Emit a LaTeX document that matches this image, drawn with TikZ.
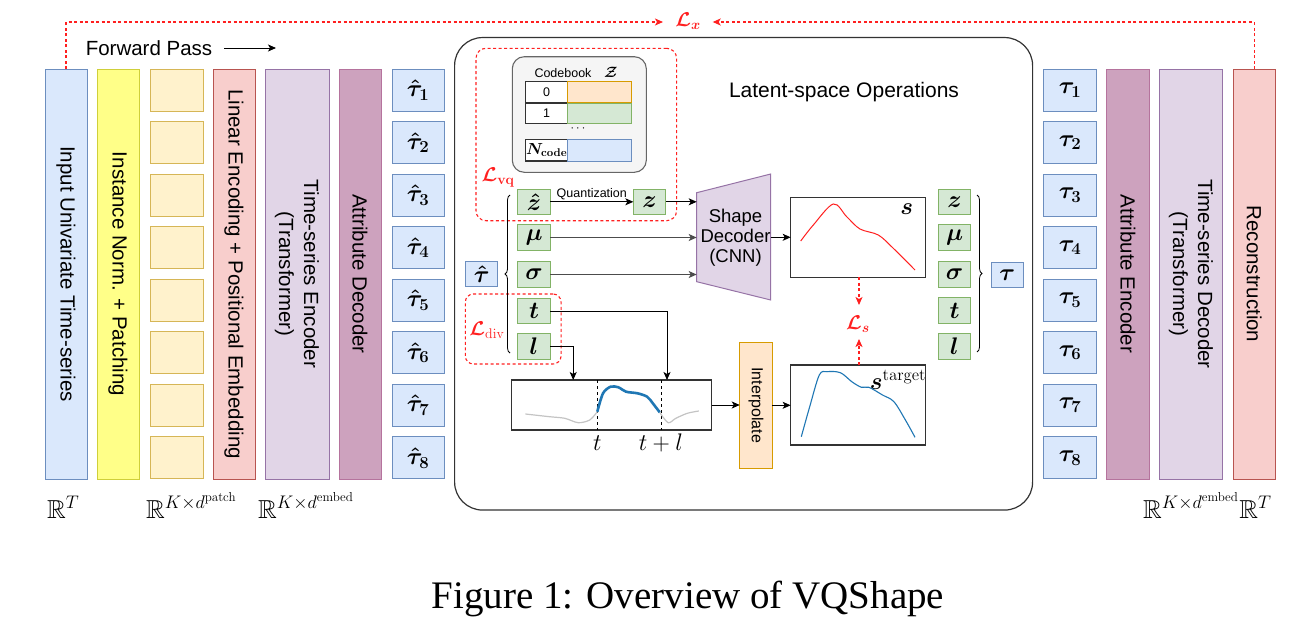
\RequirePackage{fix-cm}
\documentclass[tikz,border=0pt]{standalone}
\usepackage{amsmath,amssymb,bm}
\usepackage[no-math]{fontspec}
\setmainfont{Liberation Sans}
\newfontfamily\capfont{Liberation Serif}
\usetikzlibrary{arrows.meta,decorations.pathreplacing,calc}
\definecolor{bfill}{HTML}{DAE8FC}\definecolor{bline}{HTML}{6C8EBF}
\definecolor{yfill}{HTML}{FFFF88}\definecolor{yline}{HTML}{CFCF3A}
\definecolor{pfill}{HTML}{FFF2CC}\definecolor{pline}{HTML}{D6B656}
\definecolor{rfill}{HTML}{F8CECC}\definecolor{rline}{HTML}{B85450}
\definecolor{vfill}{HTML}{E1D5E7}\definecolor{vline}{HTML}{9673A6}
\definecolor{mfill}{HTML}{CDA2BE}\definecolor{mline}{HTML}{B5739D}
\definecolor{gfill}{HTML}{D5E8D4}\definecolor{gline}{HTML}{82B366}
\definecolor{ofill}{HTML}{FFE6CC}\definecolor{oline}{HTML}{D79B00}
\definecolor{lred}{HTML}{FF2020}
\definecolor{cblue}{HTML}{1F77B4}
\definecolor{cgrey}{HTML}{C4C4C4}
\definecolor{dline}{HTML}{333333}
\newcommand{\colfont}{\fontsize{20.5}{25}\selectfont}
\newcommand{\mfont}{\fontsize{20}{24}\selectfont}
\newcommand{\tfont}{\fontsize{24}{28}\selectfont}
\newcommand{\dfont}{\fontsize{26}{30}\selectfont}
\newcommand{\cbfont}{\fontsize{12.5}{15}\selectfont}
\begin{document}
\begin{tikzpicture}[x=1pt,y=-1pt,
  box/.style={draw, line width=1pt, inner sep=0pt, outer sep=0pt},
  colbox/.style={box, rotate=-90, minimum width=410, minimum height=42, font=\colfont, align=center},
  token/.style={box, minimum width=53, minimum height=42, font=\tfont},
  gbox/.style={box, fill=gfill, draw=gline, minimum width=32.5, minimum height=25.5, font=\tfont},
  arr/.style={-{Stealth[length=8pt,width=7pt,inset=2pt]}, line width=1pt, draw=black},
  garr/.style={arr, draw=black!70, line width=1.3pt},
  reddash/.style={draw=lred, dash pattern=on 3pt off 2.5pt, line width=1.1pt},
  rarr/.style={reddash, -{Stealth[length=8pt,width=7pt,inset=2pt,fill=lred]}},
  redlbl/.style={text=lred, font=\mfont, inner sep=1pt},
  plotbox/.style={box, draw=dline, line width=1.2pt, fill=white}
]
\useasboundingbox (0,0) rectangle (1302,632);

% ---------------- left columns ----------------
\node[colbox, fill=bfill, draw=bline] (in) at (66,274) {Input Univariate Time-series};
\node[colbox, fill=yfill, draw=yline] (norm) at (118,274) {Instance Norm. + Patching};
\node[colbox, fill=rfill, draw=rline] (lin) at (234,274) {Linear Encoding + Positional Embedding};
\node[colbox, fill=vfill, draw=vline, minimum height=64] (enc) at (297,274) {Time-series Encoder\\(Transformer)};
\node[colbox, fill=mfill, draw=mline] (attd) at (360,274) {Attribute Decoder};
% ---------------- right columns ----------------
\node[colbox, fill=mfill, draw=mline, minimum height=42.6] (atte) at (1128,274) {Attribute Encoder};
\node[colbox, fill=vfill, draw=vline, minimum height=63.4] (dec) at (1191,274) {Time-series Decoder\\(Transformer)};
\node[colbox, fill=rfill, draw=rline] (rec) at (1254.3,274) {Reconstruction};

\foreach \i in {1,...,8} {
  \pgfmathsetmacro{\yy}{90+52.57*(\i-1)}
  \node[token, fill=pfill, draw=pline] (p\i) at (176.5,\yy) {};
  \node[token, fill=bfill, draw=bline, minimum width=52] (th\i) at (418,\yy) {$\bm{\hat{\tau}_{\i}}$};
  \node[token, fill=bfill, draw=bline] (tr\i) at (1070,\yy) {$\bm{\tau_{\i}}$};
}

% forward pass
\node[font=\colfont, inner sep=0pt] (fp) at (149,48) {Forward Pass};
\coordinate (fpa) at (224,48);
\coordinate (fpb) at (276,48);
\draw[arr, line width=0.9pt] (fpa) -- (fpb);

% bottom dimension labels
\node[anchor=base west, font=\dfont, inner sep=0pt] (d1) at (47,518) {$\mathbb{R}^{T}$};
\node[anchor=base west, font=\dfont, inner sep=0pt] (d2) at (146,518) {$\mathbb{R}^{K\times d^{\mathrm{patch}}}$};
\node[anchor=base west, font=\dfont, inner sep=0pt] (d3) at (258,518) {$\mathbb{R}^{K\times d^{\mathrm{embed}}}$};
\node[anchor=base west, font=\dfont, inner sep=0pt] (d4) at (1143,518) {$\mathbb{R}^{K\times d^{\mathrm{embed}}}$};
\node[anchor=base west, font=\dfont, inner sep=0pt] (d5) at (d4.base east) {$\mathbb{R}^{T}$};

% ---------------- latent-space box ----------------
\node[box, draw=dline, line width=1.2pt, rounded corners=28, minimum width=578, minimum height=472.5] (lat) at (743.6,273.8) {};
\node[font=\fontsize{21}{25}\selectfont] (latl) at (844,92) {Latent-space Operations};

% L_vq region and codebook
\node[box, reddash, rounded corners=10, minimum width=200.6, minimum height=172.4] (vq) at (576.3,134.5) {};
\node[box, fill=black!4, draw=black!60, line width=1.1pt, rounded corners=12, minimum width=134, minimum height=115.6] (cb) at (579.3,114.5) {};
\node[font=\cbfont] (cbl) at (576,72) {Codebook\quad {\fontsize{15}{18}\selectfont$\bm{\mathcal{Z}}$}};
\node[box, fill=white, draw=dline, line width=1.2pt, minimum width=41.7, minimum height=20.6, font=\cbfont] (c0i) at (546.65,92) {0};
\node[box, fill=ofill, draw=oline, minimum width=64.3, minimum height=20.6] (c0c) at (599.65,92) {};
\node[box, fill=white, draw=dline, line width=1.2pt, minimum width=41.7, minimum height=20.6, font=\cbfont] (c1i) at (546.65,113.4) {1};
\node[box, fill=gfill, draw=gline, minimum width=64.3, minimum height=20.6] (c1c) at (599.65,113.4) {};
\node[font=\cbfont] (cbd) at (579,129) {$\cdots$};
\node[box, fill=white, draw=dline, line width=1.2pt, minimum width=41.7, minimum height=21.7, font=\fontsize{16}{18}\selectfont] (cNi) at (546.65,150.2) {$\bm{N}_{\mathbf{code}}$};
\node[box, fill=bfill, draw=bline, minimum width=64.3, minimum height=21.7] (cNc) at (599.65,150.2) {};
\node[redlbl] (Lvq) at (498,177) {$\bm{\mathcal{L}}_{\mathbf{vq}}$};

% L_div region
\node[box, reddash, rounded corners=8, minimum width=95.7, minimum height=70] (dv) at (513.2,329) {};
\node[redlbl] (Ldiv) at (487,330) {$\bm{\mathcal{L}}_{\mathrm{div}}$};

% left attribute tokens
\node[box, fill=bfill, draw=bline, minimum width=32, minimum height=25.7, font=\tfont] (tauh) at (481.7,274) {$\bm{\hat{\tau}}$};
\node[gbox] (zh) at (534,201.8) {$\bm{\hat{z}}$};
\node[gbox] (mu) at (534,237.5) {$\bm{\mu}$};
\node[gbox] (sg) at (534,274.5) {$\bm{\sigma}$};
\node[gbox] (tt) at (534,311.2) {$\bm{t}$};
\node[gbox] (ll) at (534,346.6) {$\bm{l}$};
\node[gbox] (zq) at (649.6,201.8) {$\bm{z}$};
\draw[decorate, decoration={brace, amplitude=5pt}, line width=0.8pt] (510,353) -- (510,195);

% right attribute tokens
\node[gbox] (rz) at (954.5,201.8) {$\bm{z}$};
\node[gbox] (rmu) at (954.5,237.5) {$\bm{\mu}$};
\node[gbox] (rsg) at (954.5,274.5) {$\bm{\sigma}$};
\node[gbox] (rt) at (954.5,310.5) {$\bm{t}$};
\node[gbox] (rl) at (954.5,346.6) {$\bm{l}$};
\node[box, fill=bfill, draw=bline, minimum width=32.3, minimum height=25, font=\tfont] (tau) at (1007.2,275) {$\bm{\tau}$};
\draw[decorate, decoration={brace, amplitude=5pt}, line width=0.8pt] (977,195) -- (977,352);

% shape decoder
\draw[fill=vfill, draw=vline, line width=1pt] (696.7,192.7) -- (770.7,174) -- (770.7,300) -- (696.7,281.7) -- cycle;
\node[font=\fontsize{18.5}{20}\selectfont, align=center] (sd) at (735.5,237.5) {Shape\\Decoder\\(CNN)};
\coordinate (sdz) at (696.7,201.8);
\coordinate (sdm) at (696.7,237.5);
\coordinate (sds) at (696.7,274.5);
\coordinate (sdo) at (770.7,237.3);

% arrows into shape decoder
\draw[arr] (zh.east) -- node[above, font=\cbfont, inner sep=1.5pt] (qlbl) {Quantization} (zq.west);
\draw[arr] (zq.east) -- (sdz);
\draw[garr] (mu.east) -- (sdm);
\draw[garr] (sg.east) -- (sds);

% s box
\node[plotbox, minimum width=135, minimum height=80] (sb) at (858.2,237.3) {};
\draw[arr] (sdo) -- (sdo -| sb.west);
\node[font=\tfont] (slbl) at (906.7,209.5) {$\bm{s}$};
\draw[lred, line width=1pt] plot[smooth, tension=0.55] coordinates {(800.7,241) (813.3,225) (833.3,204) (846.7,216.7) (860,229) (878.3,235) (893.3,248.3) (915,270)};

% window box
\node[plotbox, minimum width=200.6, minimum height=50] (win) at (611.5,405) {};
\coordinate (wt) at (667,380);
\coordinate (wl) at (573.2,380);
\draw[arr] (tt.east) -| (wt);
\draw[arr] (ll.east) -| (wl);
\draw[dashed, line width=0.8pt] (597.3,380) -- (597.3,430);
\draw[dashed, line width=0.8pt] (660.9,380) -- (660.9,430);
\draw[cgrey, line width=1.2pt] plot[smooth, tension=0.5] coordinates {(525.4,414) (549.5,416.7) (564.8,418.3) (578.2,422.7) (589.7,420) (597.3,411.7)};
\draw[cgrey, line width=1.2pt] plot[smooth, tension=0.5] coordinates {(659.7,412.3) (668.1,422.7) (675.8,418.3) (687.3,413.3) (698.8,411)};
\draw[cblue, line width=2.6pt] plot[smooth, tension=0.5] coordinates {(597.3,411.7) (603,393.3) (610.7,386.7) (618.4,387.3) (626,391.7) (637.5,393.3) (647.1,396.7) (652.8,403.3) (659.7,412.3)};
\node[font=\tfont] (tl) at (597.3,443) {$t$};
\node[font=\tfont] (tpl) at (660.9,443) {$t+l$};

% interpolate
\node[box, rotate=-90, fill=ofill, draw=oline, minimum width=126, minimum height=32.5, font=\fontsize{16}{19}\selectfont] (interp) at (756,405.3) {Interpolate};
\draw[arr] (win.east) -- (win.east -| interp.south);

% target box
\node[plotbox, minimum width=134.7, minimum height=80] (tb) at (858,405) {};
\draw[arr] (interp.north) -- (interp.north -| tb.west);
\node[font=\tfont, anchor=base] (tglbl) at (898,389) {$\bm{s}^{\mathrm{target}}$};
\draw[cblue, line width=1.1pt] plot[smooth, tension=0.55] coordinates {(801.3,436.7) (809.7,406.7) (819.3,375) (827,371.7) (840.4,372.7) (851.8,381.7) (861.4,387.3) (869,387.3) (882.5,395) (893.9,401.7) (905.4,420) (915,437.3)};

% L_s
\node[redlbl] (Ls) at (858,324) {$\bm{\mathcal{L}}_{\bm{s}}$};
\coordinate (Lst) at (859,305);
\coordinate (Lsb) at (859,339);
\draw[rarr] (Lst |- sb.south) -- (Lst);
\draw[rarr] (Lsb |- tb.north) -- (Lsb);

% L_x
\node[redlbl] (Lx) at (688,21) {$\bm{\mathcal{L}}_{\bm{x}}$};
\coordinate (Lxl) at (663,22);
\coordinate (Lxr) at (712.7,22);
\draw[rarr] (in.west) -- (in.west |- Lxl) -- (Lxl);
\draw[rarr] (rec.west) -- (rec.west |- Lxr) -- (Lxr);

% caption
\node[font=\capfont\fontsize{39}{46}\selectfont, anchor=base, inner sep=0pt] (cap) at (688,608) {Figure 1: Overview of VQShape};
\end{tikzpicture}
\end{document}
